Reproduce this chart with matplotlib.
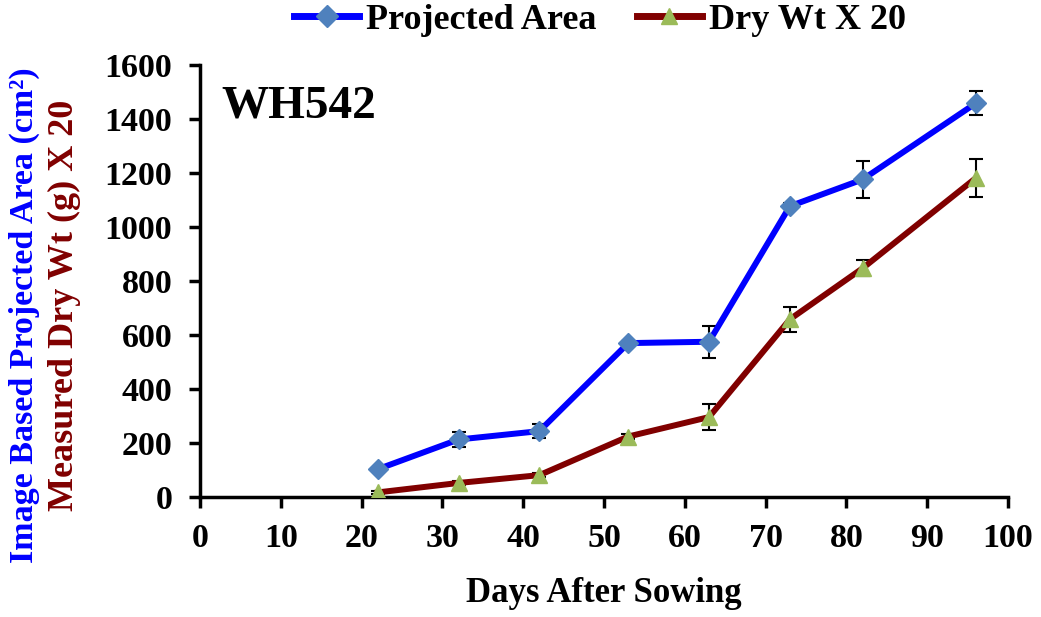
import matplotlib.pyplot as plt
from matplotlib.lines import Line2D

# Days after sowing and measurements for WH542
days = [22, 32, 42, 53, 63, 73, 82, 96]
area = [103, 213, 244, 570, 575, 1077, 1176, 1458]
area_err = [6, 26, 25, 8, 59, 12, 69, 44]
drywt = [17, 52, 81, 224, 296, 658, 847, 1181]
drywt_err = [5, 8, 8, 10, 49, 47, 29, 70]

x_ticks = list(range(0, 101, 10))
y_ticks = list(range(0, 1601, 200))

plt.rcParams['font.family'] = ['Liberation Serif', 'DejaVu Serif']
plt.rcParams['font.weight'] = 'bold'

fig = plt.figure(figsize=(10.41, 6.17), dpi=100)
ax = fig.add_axes([200 / 1041, 120 / 617, 808 / 1041, 432 / 617])

ax.errorbar(days, area, yerr=area_err, fmt='none', ecolor='black',
            elinewidth=1.5, capsize=5, capthick=1.5, zorder=2)
ax.errorbar(days, drywt, yerr=drywt_err, fmt='none', ecolor='black',
            elinewidth=1.5, capsize=5, capthick=1.5, zorder=2)
ax.plot(days, area, color='#0000FF', lw=4.3, marker='D', ms=10,
        mfc='#4F81BD', mec='#4F81BD', zorder=3)
ax.plot(days, drywt, color='#800000', lw=4.3, marker='^', ms=11,
        mfc='#9BBB59', mec='#9BBB59', zorder=3)

ax.set_xlim(0, 100)
ax.set_ylim(0, 1600)
ax.set_xticks(x_ticks)
ax.set_yticks(y_ticks)
ax.tick_params(axis='both', direction='out', length=8, width=2.5,
               labelsize=24.5)
ax.tick_params(axis='y', pad=12)
ax.tick_params(axis='x', pad=11)
for lab in ax.get_xticklabels() + ax.get_yticklabels():
    lab.set_fontweight('bold')
for side in ['top', 'right']:
    ax.spines[side].set_visible(False)
for side in ['left', 'bottom']:
    ax.spines[side].set_linewidth(2.5)
ax.spines['bottom'].set_bounds(0, 100)

ax.text(0.027, 0.905, 'WH542', transform=ax.transAxes, fontsize=34,
        fontweight='bold', va='center', ha='left')

ax.set_xlabel('Days After Sowing', fontsize=25, fontweight='bold', labelpad=16)

# two-colour y label
fig.text(24 / 1041, 1 - 315 / 617, 'Image Based Projected Area (cm²)',
         rotation=90, color='#0000FF', fontsize=24.5, fontweight='bold',
         ha='center', va='center')
fig.text(64 / 1041, 1 - 305 / 617, 'Measured Dry Wt (g) X 20', rotation=90,
         color='#800000', fontsize=26, fontweight='bold',
         ha='center', va='center')

handles = [
    Line2D([], [], color='#0000FF', lw=5, marker='D', ms=11,
           mfc='#4F81BD', mec='#4F81BD'),
    Line2D([], [], color='#800000', lw=5, marker='^', ms=12,
           mfc='#9BBB59', mec='#9BBB59'),
]
fig.legend(handles, ['Projected Area', 'Dry Wt X 20'], loc='center',
           bbox_to_anchor=(600 / 1041, 1 - 20 / 617), ncol=2, frameon=False,
           prop={'size': 26, 'weight': 'bold'}, handlelength=1.8,
           columnspacing=1.1, handletextpad=0.2)

fig.savefig('out.png', dpi=100)
